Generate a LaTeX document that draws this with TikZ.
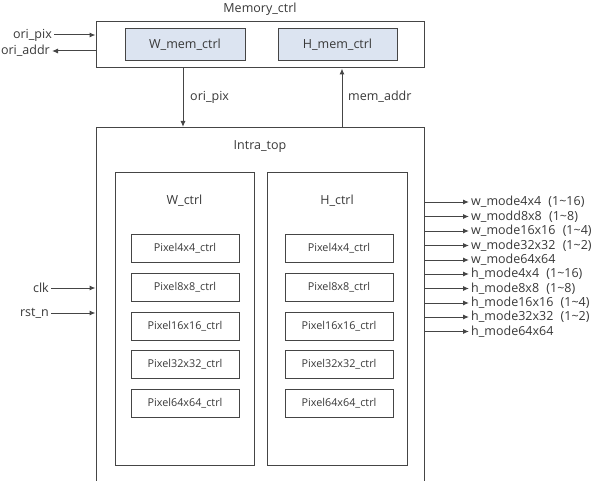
\documentclass[tikz,border=0pt]{standalone}
\usepackage{fontspec}
\setmainfont{Open Sans}
\usepackage{tikz}
\usetikzlibrary{arrows.meta,positioning}
\definecolor{linegray}{HTML}{454545}
\definecolor{textgray}{HTML}{383838}
\definecolor{memblue}{HTML}{DCE4F1}

\tikzset{
  blk/.style={draw=linegray, line width=1pt, inner sep=0pt},
  memblk/.style={blk, fill=memblue, minimum width=120, minimum height=32,
    text=textgray, font=\fontsize{12.5}{14}\selectfont},
  pixblk/.style={blk, minimum width=108, minimum height=28,
    text=textgray, font=\fontsize{10.8}{13}\selectfont},
  lbl/.style={text=textgray, font=\fontsize{12.5}{14}\selectfont, inner sep=2pt},
  arr/.style={draw=linegray, line width=1pt, -{Latex[length=6pt,width=5pt]}}
}

\begin{document}
\begin{tikzpicture}[x=1pt,y=-1pt]
\useasboundingbox (0,0) rectangle (596,481);
\clip (0,0) rectangle (596,481);

% memory controller
\node[blk, minimum width=328, minimum height=46] (mem) at (260,45) {};
\node[lbl] (memlbl) at (260,9) {Memory\_ctrl};
\node[memblk] (wmem) at (185,44.5) {W\_mem\_ctrl};
\node[memblk, minimum width=119] (hmem) at (337.5,44.5) {H\_mem\_ctrl};

\node[lbl, anchor=east] (oripixin) at (54,35) {ori\_pix};
\node[lbl, anchor=east] (oriaddr) at (52,51) {ori\_addr};
\draw[arr] (oripixin.east) -- (mem.west |- oripixin.east);
\draw[arr] (mem.west |- oriaddr.east) -- (oriaddr.east);

% intra top (open at the bottom)
\node[blk, minimum width=328, minimum height=380, anchor=north] (intra) at (260,127) {};
\node[lbl] (intralbl) at (260,147) {Intra\_top};

\draw[arr] ([xshift=-2]mem.south -| wmem.south) -- ([xshift=-2]intra.north -| wmem.south);
\node[lbl, anchor=west] (pixlbl) at (188,97) {ori\_pix};
\draw[arr] ([xshift=4.5]intra.north -| hmem.south) -- ([xshift=4.5]mem.south -| hmem.south);
\node[lbl, anchor=west] (addrlbl) at (346,97) {mem\_addr};

% W and H controllers
\node[blk, minimum width=139, minimum height=293] (wctrl) at (184.5,318.5) {};
\node[blk, minimum width=140, minimum height=293] (hctrl) at (337,318.5) {};
\node[lbl] (wlbl) at (184.5,201) {W\_ctrl};
\node[lbl] (hlbl) at (337,201) {H\_ctrl};

\node[pixblk] (w4) at (185,248) {Pixel4x4\_ctrl};
\node[pixblk] (w8) at (185,287) {Pixel8x8\_ctrl};
\node[pixblk] (w16) at (185,326) {Pixel16x16\_ctrl};
\node[pixblk] (w32) at (185,364.5) {Pixel32x32\_ctrl};
\node[pixblk] (w64) at (185,403.5) {Pixel64x64\_ctrl};

\node[pixblk] (h4) at (339,248) {Pixel4x4\_ctrl};
\node[pixblk] (h8) at (339,287) {Pixel8x8\_ctrl};
\node[pixblk] (h16) at (339,326) {Pixel16x16\_ctrl};
\node[pixblk] (h32) at (339,364.5) {Pixel32x32\_ctrl};
\node[pixblk] (h64) at (339,403.5) {Pixel64x64\_ctrl};

% inputs
\node[lbl, anchor=east] (clk) at (51,288) {clk};
\node[lbl, anchor=east] (rst) at (51,313) {rst\_n};
\draw[arr] (clk.east) -- (intra.west |- clk.east);
\draw[arr] (rst.east) -- (intra.west |- rst.east);

% outputs
\node[lbl, anchor=west] (wm4) at (469,202) {w\_mode4x4\hspace{4pt} (1\textasciitilde16)};
\node[lbl, anchor=west] (wm8) at (469,216.5) {w\_modd8x8\hspace{4pt} (1\textasciitilde8)};
\node[lbl, anchor=west] (wm16) at (469,231) {w\_mode16x16\hspace{4pt} (1\textasciitilde4)};
\node[lbl, anchor=west] (wm32) at (469,245.5) {w\_mode32x32\hspace{4pt} (1\textasciitilde2)};
\node[lbl, anchor=west] (wm64) at (469,260) {w\_mode64x64};
\node[lbl, anchor=west] (hm4) at (469,274) {h\_mode4x4\hspace{4pt} (1\textasciitilde16)};
\node[lbl, anchor=west] (hm8) at (469,288.5) {h\_mode8x8\hspace{4pt} (1\textasciitilde8)};
\node[lbl, anchor=west] (hm16) at (469,303) {h\_mode16x16\hspace{4pt} (1\textasciitilde4)};
\node[lbl, anchor=west] (hm32) at (469,317) {h\_mode32x32\hspace{4pt} (1\textasciitilde2)};
\node[lbl, anchor=west] (hm64) at (469,331.5) {h\_mode64x64};

\draw[arr] (intra.east |- wm4.west) -- (wm4.west);
\draw[arr] (intra.east |- wm8.west) -- (wm8.west);
\draw[arr] (intra.east |- wm16.west) -- (wm16.west);
\draw[arr] (intra.east |- wm32.west) -- (wm32.west);
\draw[arr] (intra.east |- wm64.west) -- (wm64.west);
\draw[arr] (intra.east |- hm4.west) -- (hm4.west);
\draw[arr] (intra.east |- hm8.west) -- (hm8.west);
\draw[arr] (intra.east |- hm16.west) -- (hm16.west);
\draw[arr] (intra.east |- hm32.west) -- (hm32.west);
\draw[arr] (intra.east |- hm64.west) -- (hm64.west);
\end{tikzpicture}
\end{document}
